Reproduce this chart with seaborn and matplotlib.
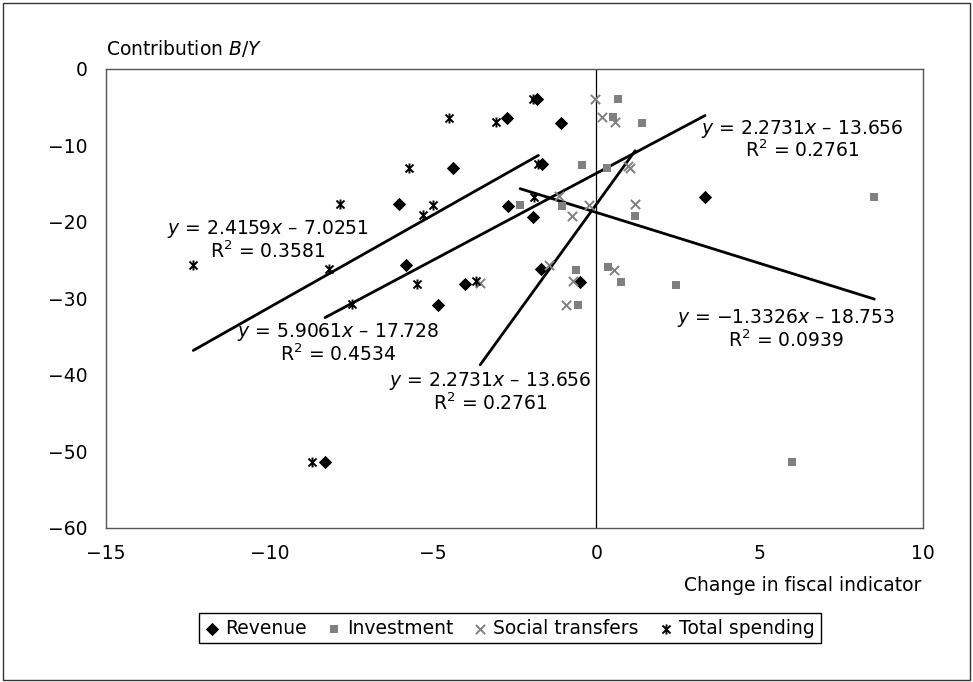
import numpy as np
import pandas as pd
import matplotlib
matplotlib.use("Agg")
import matplotlib.pyplot as plt
from matplotlib.path import Path
from matplotlib.patches import Rectangle
import seaborn as sns

# ---------------- data ----------------
series_names = ["Revenue", "Investment", "Social transfers", "Total spending"]

rev_x = [-1.82, -2.74, -1.09, -4.37, -1.66, -6.02, -2.69, -1.93, -5.82, -1.70, -4.01, -0.51, -4.85, -8.30, 3.33]
rev_y = [-3.9, -6.45, -7.0, -13.0, -12.4, -17.66, -17.9, -19.3, -25.7, -26.2, -28.1, -27.9, -30.9, -51.4, -16.7]

inv_x = [0.68, 0.51, 1.39, -0.43, 0.32, -2.33, -1.05, 1.19, -0.62, 0.35, 0.77, 2.44, -0.55, 8.51, 6.0]
inv_y = [-3.97, -6.32, -7.02, -12.5, -12.9, -17.8, -17.9, -19.2, -26.25, -25.9, -27.9, -28.2, -30.9, -16.7, -51.4]

soc_x = [-0.05, 0.19, 0.56, 0.97, 1.02, -1.13, -0.21, 1.19, -0.73, -1.44, 0.53, -3.55, -0.70, -0.92]
soc_y = [-3.97, -6.32, -6.98, -12.7, -12.9, -16.65, -17.8, -17.7, -19.2, -25.7, -26.3, -28.0, -27.7, -30.9]

tot_x = [-1.92, -4.49, -3.07, -5.72, -1.77, -7.84, -5.0, -5.29, -1.90, -12.33, -8.17, -5.49, -3.69, -7.46, -8.71]
tot_y = [-3.9, -6.37, -6.98, -12.9, -12.4, -17.7, -17.8, -19.1, -16.7, -25.7, -26.2, -28.1, -27.7, -30.8, -51.4]

# trend lines (slope, intercept) per series
trend_slope = [2.2731, -1.3326, 5.9061, 2.4159]
trend_intercept = [-13.656, -18.753, -17.728, -7.0251]

# equation labels as they appear on the chart
eq_texts = [
    "$y$ = 2.4159$x$ – 7.0251\nR$^2$ = 0.3581",
    "$y$ = 5.9061$x$ – 17.728\nR$^2$ = 0.4534",
    "$y$ = 2.2731$x$ – 13.656\nR$^2$ = 0.2761",
    "$y$ = 2.2731$x$ – 13.656\nR$^2$ = 0.2761",
    "$y$ = −1.3326$x$ – 18.753\nR$^2$ = 0.0939",
]

x_ticks = [-15, -10, -5, 0, 5, 10]
y_ticks = [-60, -50, -40, -30, -20, -10, 0]

# ---------------- style ----------------
sns.set_theme(style="white")
plt.rcParams["font.family"] = ["DejaVu Sans"]
plt.rcParams["mathtext.fontset"] = "dejavusans"
plt.rcParams["text.color"] = "black"
plt.rcParams["xtick.color"] = "black"
plt.rcParams["ytick.color"] = "black"
plt.rcParams["axes.labelcolor"] = "black"
FS = 13.5

fig = plt.figure(figsize=(9.73, 6.82), dpi=100)
ax = fig.add_axes([106 / 973, 1 - 527.7 / 682, 817 / 973, 458.7 / 682])

star = Path([(-1, -1), (1, 1), (-1, 1), (1, -1), (0, -1.25), (0, 1.25)],
            [Path.MOVETO, Path.LINETO, Path.MOVETO, Path.LINETO, Path.MOVETO, Path.LINETO])

xs = [rev_x, inv_x, soc_x, tot_x]
ys = [rev_y, inv_y, soc_y, tot_y]

# trend lines first (drawn under markers)
for sx, m, b in zip(xs, trend_slope, trend_intercept):
    lx = np.array([min(sx), max(sx)])
    sns.lineplot(x=lx, y=m * lx + b, color="black", lw=2.0, ax=ax, legend=False)

sns.scatterplot(x=rev_x, y=rev_y, marker="D", color="black", edgecolor="black",
                s=46, linewidth=0, ax=ax, label=series_names[0], zorder=3)
sns.scatterplot(x=inv_x, y=inv_y, marker="s", color="#808080", edgecolor="#808080",
                s=38, linewidth=0, ax=ax, label=series_names[1], zorder=3)
sns.scatterplot(x=soc_x, y=soc_y, marker="x", color="#808080",
                s=44, linewidth=1.4, ax=ax, label=series_names[2], zorder=3)
sns.scatterplot(x=tot_x, y=tot_y, marker=star, color="black", edgecolor="black",
                s=52, linewidth=1.4, ax=ax, label=series_names[3], zorder=3)

ax.axvline(0, color="black", lw=0.9, zorder=1)

ax.set_xlim(-15, 10)
ax.set_ylim(-60, 0)
ax.set_xticks(x_ticks)
ax.set_yticks(y_ticks)
ax.set_xlabel("")
ax.set_ylabel("")
for sp in ax.spines.values():
    sp.set_color("#555555")
    sp.set_linewidth(1.0)
ax.tick_params(axis="x", direction="in", length=5, width=1, color="#555555",
               labelsize=FS, pad=12, labelcolor="black")
ax.tick_params(axis="y", length=0, labelsize=FS, pad=13, labelcolor="black")

# equation labels
eq_pos = [(-10.04, -22.4), (-7.89, -35.85), (-3.25, -42.25), (6.30, -9.2), (5.81, -34.0)]
for (px, py), t in zip(eq_pos, eq_texts):
    ax.text(px, py, t, ha="center", va="center", fontsize=FS, color="black",
            multialignment="center", linespacing=1.0, zorder=4)

# axis titles
fig.text(106 / 973, 1 - 55 / 682, "Contribution $B/Y$", ha="left", va="baseline", fontsize=FS)
fig.text(921 / 973, 1 - 591 / 682, "Change in fiscal indicator", ha="right", va="baseline", fontsize=FS)

# legend
handles, labels = ax.get_legend_handles_labels()
if ax.get_legend() is not None:
    ax.get_legend().remove()
leg = fig.legend(handles, labels, loc="center", bbox_to_anchor=(510 / 973, 1 - 628 / 682),
                 ncol=4, frameon=True, fancybox=False, edgecolor="black", framealpha=1,
                 fontsize=FS, handlelength=0.7, handletextpad=0.35, columnspacing=1.1,
                 borderpad=0.3)
leg.get_frame().set_linewidth(1.0)

# outer border
fig.add_artist(Rectangle((3 / 973, 2 / 682), 967 / 973, 677 / 682, transform=fig.transFigure,
                         fill=False, edgecolor="#333333", lw=1.0))

fig.savefig("out.png", dpi=100)
